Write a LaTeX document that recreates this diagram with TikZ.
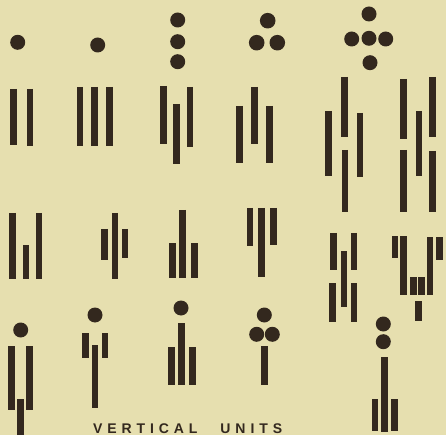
\documentclass[tikz,border=0pt]{standalone}
\usepackage{fontspec}
\newfontfamily\lettering[LetterSpace=35]{Liberation Sans}
\definecolor{paper}{HTML}{E6DFAF}
\definecolor{ink}{HTML}{33281E}
\tikzset{bar/.style={ink,line width=6.5pt},dot/.style={fill=ink},capt/.style={ink,font=\lettering\bfseries\fontsize{14}{14}\selectfont,inner sep=0pt,anchor=base west}}
\begin{document}
\begin{tikzpicture}[x=1pt,y=-1pt]
\fill[paper] (0,0) rectangle (446,435);
\useasboundingbox (0,0) rectangle (446,435);
% first row
\fill[dot] (17.7,42.3) circle (7.5pt);
\draw[bar] (13.3,89)--(13.3,145); \draw[bar] (30,89)--(30,146);
\fill[dot] (97.7,45) circle (7.5pt);
\draw[bar] (80,87)--(80,146); \draw[bar] (94.3,87)--(94.3,146); \draw[bar] (109.3,87)--(109.3,146);
\fill[dot] (177.7,20) circle (7.5pt); \fill[dot] (177.7,41.7) circle (7.5pt); \fill[dot] (177.7,61.7) circle (7.5pt);
\draw[bar] (163.3,86)--(163.3,144); \draw[bar] (176.7,104)--(176.7,164); \draw[bar] (190,87)--(190,147);
\fill[dot] (267.7,20.7) circle (7.8pt); \fill[dot] (256.7,42.7) circle (7.8pt); \fill[dot] (277.3,42.7) circle (7.8pt);
\draw[bar] (239.3,106)--(239.3,163); \draw[bar] (254.3,87)--(254.3,144); \draw[bar] (269.3,106)--(269.3,163);
\fill[dot] (369,14) circle (7.5pt); \fill[dot] (351.7,39) circle (7.5pt); \fill[dot] (369,38.3) circle (7.5pt); \fill[dot] (385.7,39) circle (7.5pt); \fill[dot] (370,62.7) circle (7.5pt);
\draw[bar] (344.3,77)--(344.3,137); \draw[bar] (328.7,111)--(328.7,176); \draw[bar] (360,113)--(360,177); \draw[bar] (345,150)--(345,212);
\draw[bar] (403.3,79)--(403.3,139); \draw[bar] (432.7,77)--(432.7,137); \draw[bar] (419,111)--(419,176); \draw[bar] (403.3,150)--(403.3,212); \draw[bar] (432.7,151)--(432.7,212);
% second row
\draw[bar] (12.7,213)--(12.7,279); \draw[bar] (26,245)--(26,279); \draw[bar] (39,213)--(39,279);
\draw[bar] (115,213)--(115,279); \draw[bar] (104.3,229)--(104.3,260); \draw[bar] (125,229)--(125,258);
\draw[bar] (182.7,210)--(182.7,278); \draw[bar] (172.7,243)--(172.7,278); \draw[bar] (194.3,243)--(194.3,278);
\draw[bar] (250,208)--(250,246); \draw[bar] (261.7,208)--(261.7,277); \draw[bar] (273.3,208)--(273.3,245);
\draw[bar] (333.3,233)--(333.3,270); \draw[bar] (354,233)--(354,270); \draw[bar] (344,251)--(344,307); \draw[bar] (332.7,283)--(332.7,322); \draw[bar] (354,283)--(354,322);
\draw[bar] (395,236)--(395,258); \draw[bar] (403.3,236)--(403.3,295); \draw[bar] (413.3,277)--(413.3,295); \draw[bar] (421.7,277)--(421.7,295); \draw[bar] (430,237)--(430,295); \draw[bar] (439.3,237)--(439.3,260); \draw[bar] (418.3,301)--(418.3,321);
% third row
\fill[dot] (20.7,330) circle (7.5pt);
\draw[bar] (11.7,346)--(11.7,410); \draw[bar] (29.3,346)--(29.3,410); \draw[bar] (20.7,399)--(20.7,440);
\fill[dot] (95,315) circle (7.5pt);
\draw[bar] (85.7,333)--(85.7,358); \draw[bar] (105,333)--(105,358); \draw[bar] (95,345)--(95,408);
\fill[dot] (181,308) circle (7.5pt);
\draw[bar] (181.7,323)--(181.7,385); \draw[bar] (171.7,347)--(171.7,385); \draw[bar] (192.7,347)--(192.7,385);
\fill[dot] (264.3,315) circle (7.5pt); \fill[dot] (256.7,334.3) circle (7.5pt); \fill[dot] (272.3,334.3) circle (7.5pt);
\draw[bar] (264.3,346)--(264.3,385);
\fill[dot] (383.3,324) circle (7.5pt); \fill[dot] (383.3,341.7) circle (7.5pt);
\draw[bar] (384.3,357)--(384.3,432); \draw[bar] (375,399)--(375,431); \draw[bar] (394.3,399)--(394.3,431);
\node[capt] (caption) at (93,433.5) {VERTICAL\hspace{23pt}UNITS};
\end{tikzpicture}
\end{document}
